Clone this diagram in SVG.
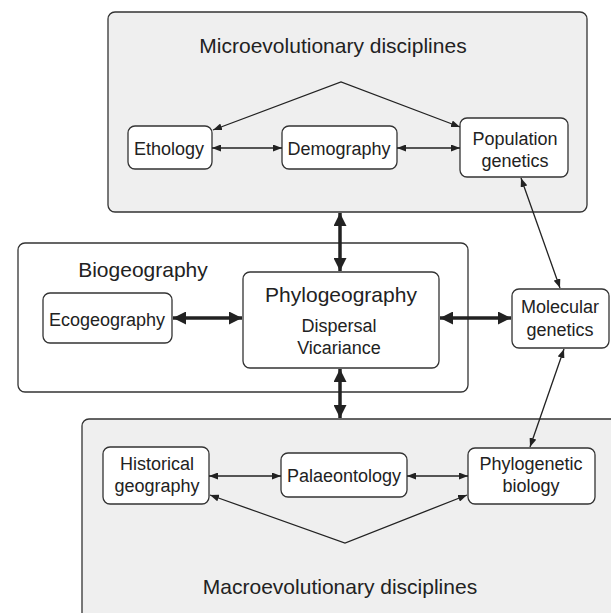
<svg xmlns="http://www.w3.org/2000/svg" width="611" height="613" viewBox="0 0 611 613">
<defs>
<marker id="a" markerUnits="userSpaceOnUse" markerWidth="9" markerHeight="7" refX="9" refY="3.5" orient="auto-start-reverse"><path d="M0,0 L9,3.5 L0,7 z" fill="#222"/></marker>
<marker id="A" markerUnits="userSpaceOnUse" markerWidth="13" markerHeight="13" refX="13" refY="6.5" orient="auto-start-reverse"><path d="M0,0 L13,6.5 L0,13 z" fill="#222"/></marker>
</defs>
<style>
.grp{fill:#efefef;stroke:#333;stroke-width:1.3}
.bio{fill:#fff;stroke:#333;stroke-width:1.3}
.n{fill:#fff;stroke:#333;stroke-width:1.3}
text{font-family:"Liberation Sans",Arial,sans-serif;fill:#222;text-anchor:middle}
.t{font-size:21px}
.s{font-size:18px}
.thin{stroke:#222;stroke-width:1.3;fill:none;marker-start:url(#a);marker-end:url(#a)}
.thick{stroke:#222;stroke-width:3.5;fill:none;marker-start:url(#A);marker-end:url(#A)}
.vee{stroke:#222;stroke-width:1.3;fill:none;marker-start:url(#a);marker-end:url(#a)}
</style>
<g id="micro"><rect class="grp" x="108" y="12" width="479" height="200" rx="7"/><text class="t" x="333" y="53">Microevolutionary disciplines</text></g>
<g id="macro"><rect class="grp" x="82" y="419" width="540" height="210" rx="7"/><text class="t" x="340" y="594">Macroevolutionary disciplines</text></g>
<g id="biogeography"><rect class="bio" x="18" y="243" width="450" height="149" rx="7"/><text class="t" x="143" y="277">Biogeography</text></g>
<g id="ethology"><rect class="n" x="128" y="126" width="84" height="43" rx="7"/><text class="s" x="169" y="155">Ethology</text></g>
<g id="demography"><rect class="n" x="282" y="126" width="115" height="43" rx="7"/><text class="s" x="339" y="155">Demography</text></g>
<g id="popgen"><rect class="n" x="460" y="118" width="108" height="59" rx="7"/><text class="s" x="515" y="145">Population</text><text class="s" x="515" y="167">genetics</text></g>
<g id="ecogeography"><rect class="n" x="43" y="293" width="129" height="50" rx="7"/><text class="s" x="107" y="326">Ecogeography</text></g>
<g id="phylogeography"><rect class="n" x="243" y="272" width="196" height="96" rx="7"/><text class="t" x="341" y="302">Phylogeography</text><text class="s" x="339" y="332">Dispersal</text><text class="s" x="339" y="354">Vicariance</text></g>
<g id="molgen"><rect class="n" x="512" y="289" width="97" height="59" rx="7"/><text class="s" x="560" y="313">Molecular</text><text class="s" x="560" y="336">genetics</text></g>
<g id="histgeo"><rect class="n" x="103" y="447" width="106" height="57" rx="7"/><text class="s" x="157" y="470">Historical</text><text class="s" x="157" y="492">geography</text></g>
<g id="palaeo"><rect class="n" x="281" y="453" width="126" height="44" rx="7"/><text class="s" x="344" y="482">Palaeontology</text></g>
<g id="phylobio"><rect class="n" x="468" y="448" width="127" height="56" rx="7"/><text class="s" x="531" y="470">Phylogenetic</text><text class="s" x="531" y="492">biology</text></g>
<g id="connectors">
<line class="thin" x1="212" y1="148" x2="282" y2="148"/>
<line class="thin" x1="397" y1="148" x2="460" y2="148"/>
<path class="vee" d="M213,130 L341,82 L460,127"/>
<line class="thin" x1="209" y1="476" x2="281" y2="476"/>
<line class="thin" x1="407" y1="476" x2="468" y2="476"/>
<path class="vee" d="M210,495 L345,543 L467,495"/>
<line class="thin" x1="521" y1="178" x2="560" y2="288"/>
<line class="thin" x1="564" y1="349" x2="530" y2="447"/>
<line class="thick" x1="340" y1="213" x2="340" y2="271"/>
<line class="thick" x1="340" y1="369" x2="340" y2="418"/>
<line class="thick" x1="173" y1="318" x2="242" y2="318"/>
<line class="thick" x1="440" y1="318" x2="511" y2="318"/>
</g>
</svg>
